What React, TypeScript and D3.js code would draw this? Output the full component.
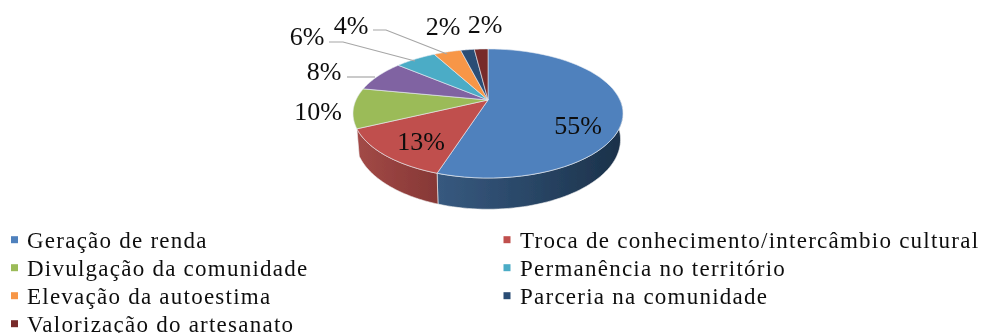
import React from "react";
import * as d3 from "d3";

const values = [55, 13, 10, 8, 6, 4, 2, 2];
const legendCategories = [
  "Geração de renda",
  "Troca de conhecimento/intercâmbio cultural",
  "Divulgação da comunidade",
  "Permanência no território",
  "Elevação da autoestima",
  "Parceria na comunidade",
  "Valorização do artesanato",
];
const legendColors = ["#4f81bd", "#c0504d", "#9bbb59", "#4bacc6", "#f79646", "#2c4d75", "#772c2a"];
const sliceColors = ["#4f81bd", "#c0504d", "#9bbb59", "#8064a2", "#4bacc6", "#f79646", "#2c4d75", "#772c2a"];
const labelPos: [string, number, number][] = [
  ["55%", 578, 125],
  ["13%", 421, 141],
  ["10%", 318, 111],
  ["8%", 324, 71],
  ["6%", 307, 36],
  ["4%", 351, 25],
  ["2%", 443, 26],
  ["2%", 485, 24],
];
const leaders: [number, number][][] = [
  [[347, 77], [375, 77]],
  [[329, 42], [343, 42], [415, 61]],
  [[373, 30], [386, 30], [447, 54]],
];

const cx = 488, cy = 100, A = 132, B = 61.7, K = 0.209;
const project = (t: number, r = 1): [number, number] => {
  const u = Math.sin(t) * r, v = -Math.cos(t) * r;
  const w = 1 - K * v;
  return [cx + (A * u) / w, cy + (B * v) / w];
};
const sample = (a: number, b: number) => d3.range(0, 61).map((i) => project(a + ((b - a) * i) / 60));
const lower = ([x, y]: [number, number]): [number, number] => [cx + (x - cx) * 0.982, y + 25 + (y - 100) * 0.08];
const line = d3.line();

const slices = d3.pie<number>().sort(null)(values);

export default function App() {
  return (
    <svg width={981} height={333} style={{ position: "absolute", left: 0, top: 0, background: "#fff" }}>
      <defs>
        <linearGradient id="sideBlue" gradientUnits="userSpaceOnUse" x1={438} x2={623} y1={0} y2={0}>
          <stop offset="0" stopColor="#37597f" />
          <stop offset="0.5" stopColor="#294666" />
          <stop offset="1" stopColor="#1b3149" />
        </linearGradient>
        <linearGradient id="sideRed" gradientUnits="userSpaceOnUse" x1={355} x2={440} y1={0} y2={0}>
          <stop offset="0" stopColor="#a34a47" />
          <stop offset="1" stopColor="#853735" />
        </linearGradient>
        <filter id="soft" x="-5%" y="-5%" width="110%" height="110%">
          <feGaussianBlur stdDeviation="0.5" />
        </filter>
        <filter id="softText" x="-5%" y="-5%" width="110%" height="110%">
          <feGaussianBlur stdDeviation="0.35" />
        </filter>
      </defs>
      <g filter="url(#soft)">
        {slices.slice(0, 2).map((s, i) => {
          const start = i === 0 ? Math.PI / 2 : s.startAngle;
          const end = s.endAngle;
          const top = sample(start, end);
          const bottom = top.map(lower).reverse();
          return (
            <path
              key={i}
              d={line([...top, ...bottom]) + "Z"}
              fill={i === 0 ? "url(#sideBlue)" : "url(#sideRed)"}
              stroke="#f2f2f2"
              strokeWidth={0.6}
            />
          );
        })}
        {slices.map((s, i) => (
          <path
            key={i}
            d={line([[cx, cy], ...sample(s.startAngle, s.endAngle)]) + "Z"}
            fill={sliceColors[i]}
            stroke="#e8edf3"
            strokeWidth={0.6}
          />
        ))}
      </g>
      {leaders.map((p, i) => (
        <path key={i} d={line(p) ?? ""} fill="none" stroke="#a6a6a6" strokeWidth={1.2} />
      ))}
      <g filter="url(#softText)">
        <g fontFamily="'Liberation Serif', serif" fontSize={26} fill="#111" textAnchor="middle" dominantBaseline="central">
          {labelPos.map(([t, x, y], i) => (
            <text key={i} x={x} y={y}>{t}</text>
          ))}
        </g>
        <g fontFamily="'Liberation Serif', serif" fontSize={23} letterSpacing={1.24} fill="#111">
          {legendCategories.map((c, i) => {
            const col = i % 2;
            const row = Math.floor(i / 2);
            const y = 239.7 + row * 28;
            return (
              <g key={c}>
                <rect x={col ? 503.5 : 11} y={y - 3.5} width={7} height={7} fill={legendColors[i]} />
                <text x={col ? 520 : 27} y={y + 8}>{c}</text>
              </g>
            );
          })}
        </g>
      </g>
    </svg>
  );
}
